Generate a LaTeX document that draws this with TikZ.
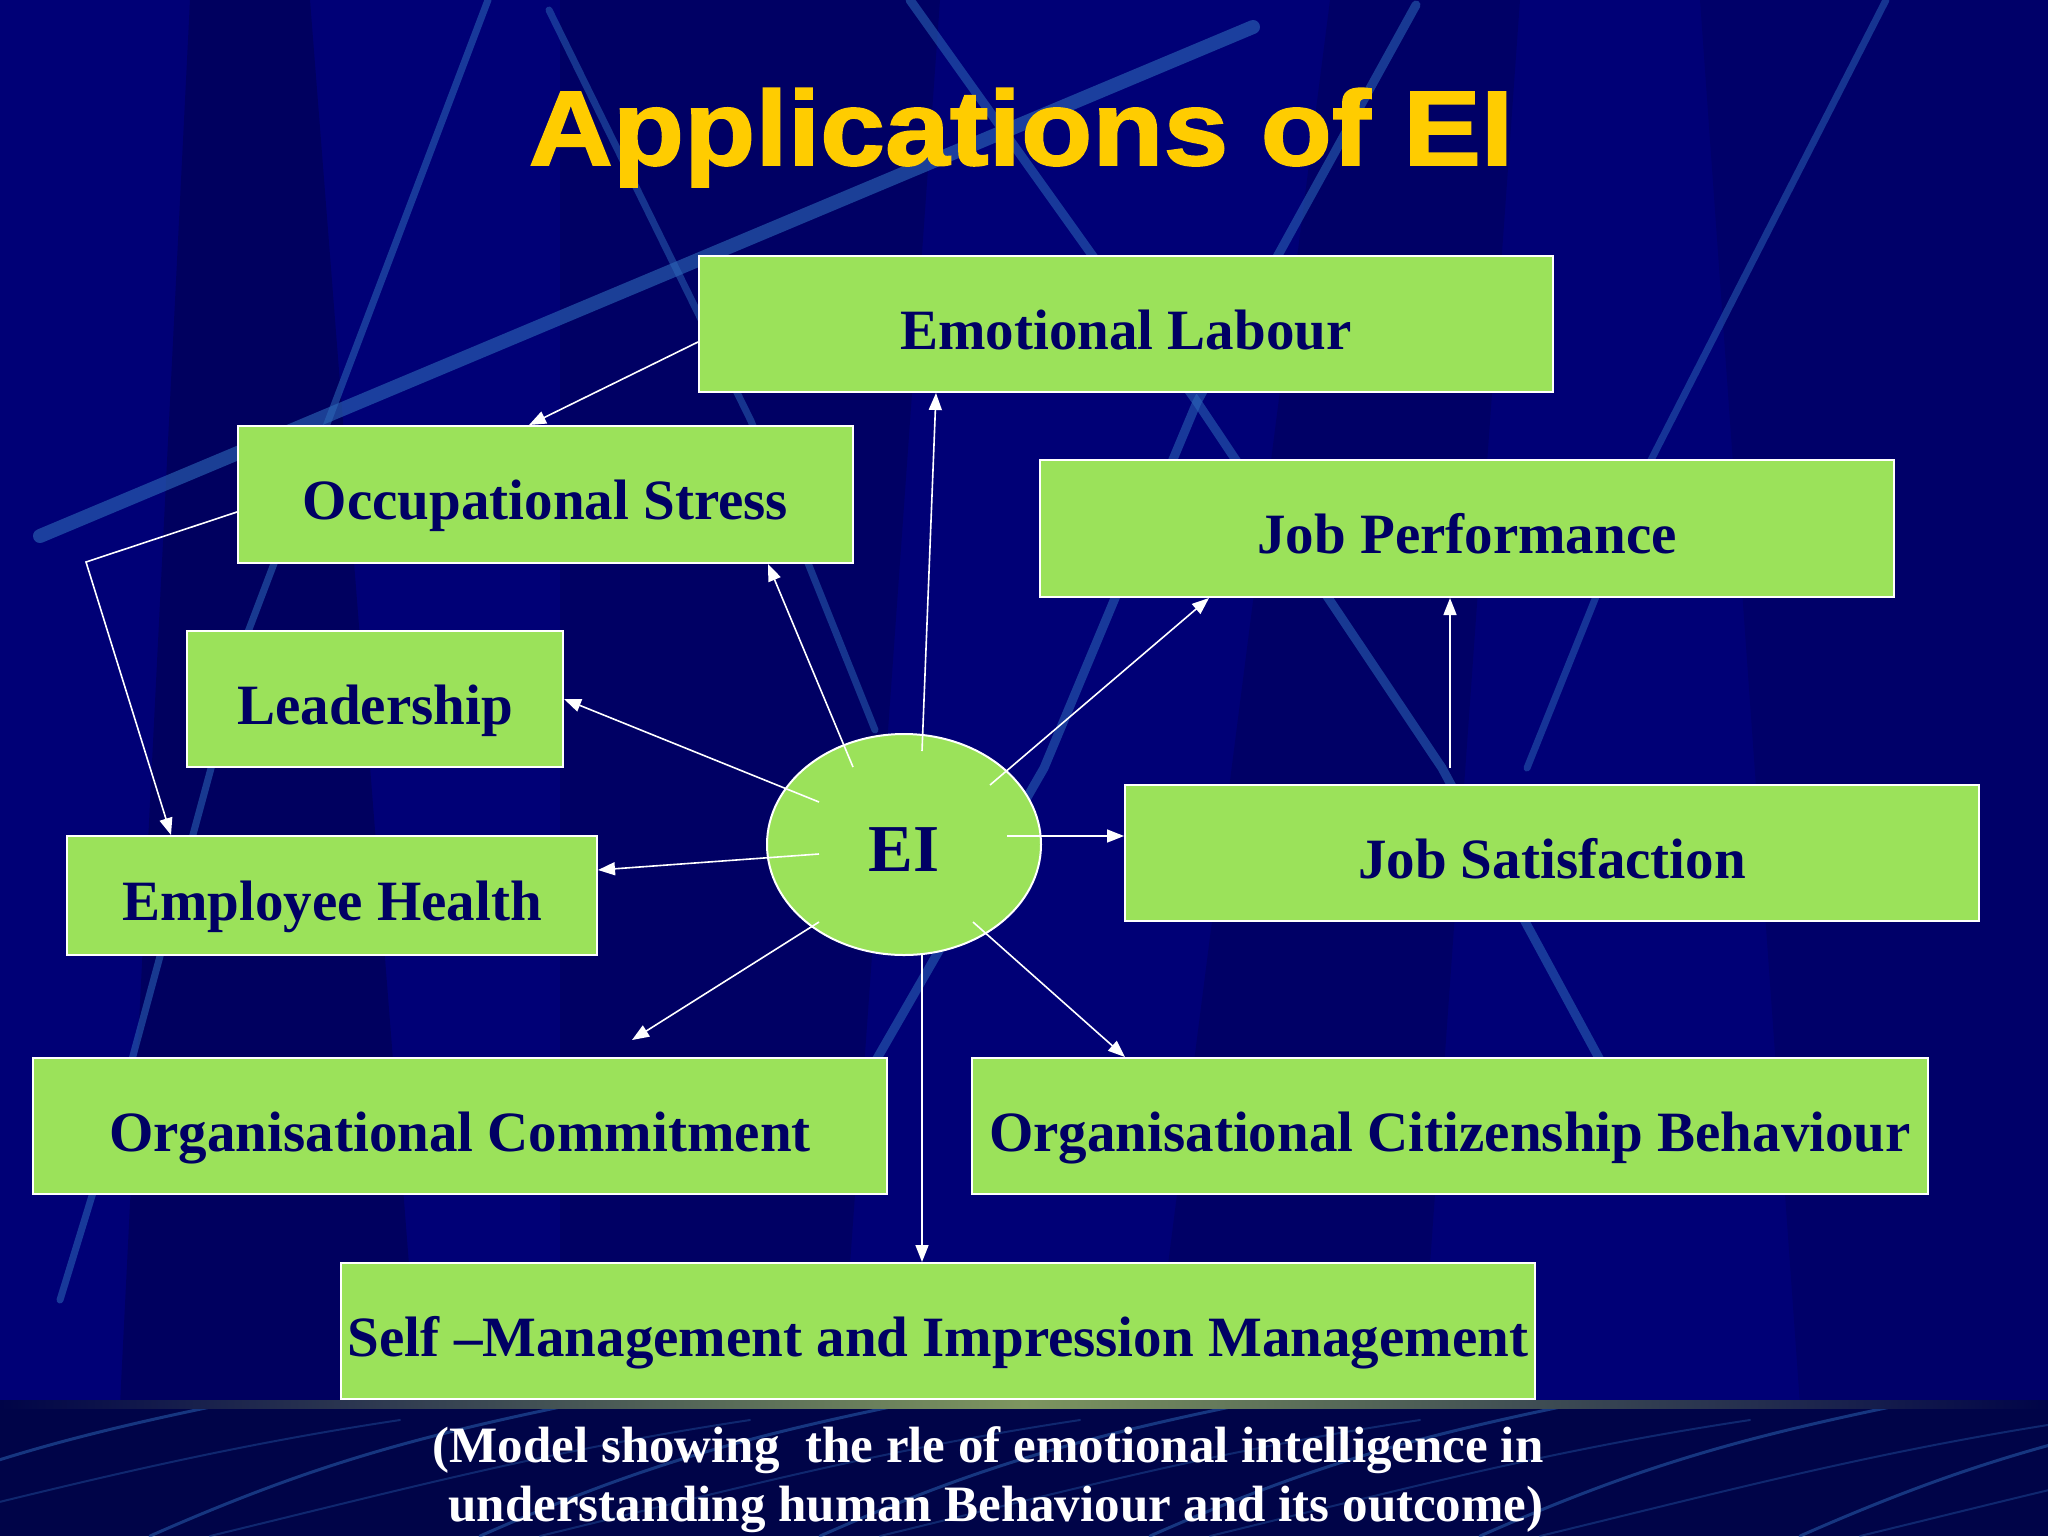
\documentclass[tikz,border=0pt]{standalone}
\usepackage{fontspec}
\setmainfont{Liberation Serif}
\newfontfamily\titlefont[FakeStretch=1.1,BoldFeatures={FakeBold=1.6,FakeStretch=1.1}]{Liberation Sans}
\usetikzlibrary{arrows.meta,shapes.geometric,calc}
\definecolor{bgnavy}{RGB}{0,0,118}
\definecolor{bgdark}{RGB}{0,0,68}
\definecolor{bottomnavy}{RGB}{0,4,72}
\definecolor{streak}{RGB}{45,105,185}
\definecolor{boxgreen}{RGB}{155,226,90}
\definecolor{textnavy}{RGB}{0,0,100}
\definecolor{titleyellow}{RGB}{255,204,0}
\definecolor{barmid}{RGB}{125,150,95}
\begin{document}
\begin{tikzpicture}[x=0.5pt,y=-0.5pt,
  box/.style={draw=white,line width=1pt,fill=boxgreen,text=textnavy,
    font=\fontsize{28.5}{34}\selectfont\bfseries,inner sep=0pt,rectangle,
    text height=25pt,text depth=0pt},
  link/.style={draw=white,line width=0.8pt,-{Triangle[length=8.5pt,width=6.5pt]}},
  streakline/.style={draw=streak,line cap=round,line join=round},
  captiontext/.style={text=white,font=\fontsize{25.5}{30}\selectfont\bfseries,anchor=base,inner sep=0pt}]
\useasboundingbox (0,0) rectangle (2048,1536);
% ---------- background ----------
\fill[bgnavy] (0,0) rectangle (2048,1405);
\fill[bgdark,opacity=0.45] (190,0) -- (310,0) -- (420,1405) -- (120,1405) -- cycle;
\fill[bgdark,opacity=0.35] (560,0) -- (940,0) -- (840,1405) -- (560,1405) -- cycle;
\fill[bgdark,opacity=0.30] (1330,0) -- (1520,0) -- (1420,1405) -- (1150,1405) -- cycle;
\fill[bgdark,opacity=0.25] (1700,0) -- (2048,0) -- (2048,1405) -- (1800,1405) -- cycle;
\draw[streakline,line width=7pt,opacity=0.6] (40,536) -- (1253,27);
\draw[streakline,line width=3.5pt,opacity=0.55] (488,0) -- (248,632) -- (118,1111) -- (60,1300);
\draw[streakline,line width=3.5pt,opacity=0.5] (549,10) -- (751,421) -- (875,730);
\draw[streakline,line width=4.5pt,opacity=0.55] (910,0) -- (1197,402) -- (1442,768) -- (1600,1060);
\draw[streakline,line width=4.5pt,opacity=0.55] (1416,5) -- (1197,402) -- (1044,768) -- (875,1062);
\draw[streakline,line width=3.5pt,opacity=0.5] (1886,0) -- (1651,460) -- (1527,768);
% bottom strip
\fill[bottomnavy] (0,1405) rectangle (2048,1536);
\foreach \x in {-200,150,480,820,1150,1480,1800}{
  \draw[streakline,line width=1.5pt,opacity=0.5] (\x,1536) .. controls (\x+150,1470) and (\x+250,1440) .. (\x+420,1405);
  \draw[streakline,line width=1pt,opacity=0.35] (\x+60,1536) .. controls (\x+250,1490) and (\x+400,1450) .. (\x+600,1420);
}
\shade[left color=bottomnavy,right color=bottomnavy,middle color=barmid] (0,1400) rectangle (2048,1408);
% ---------- title ----------
\node[font=\titlefont\fontsize{53}{56}\selectfont\bfseries,text=titleyellow,anchor=base,inner sep=0pt] (title) at (1021,165) {Applications of EI};
% ---------- nodes ----------
\node[box,minimum width=427pt,minimum height=68pt] (EL) at (1126,324) {Emotional Labour};
\node[box,minimum width=307.5pt,minimum height=68.5pt] (OS) at (545.5,494.5) {Occupational Stress};
\node[box,minimum width=427pt,minimum height=68.5pt] (JP) at (1467,528.5) {Job Performance};
\node[box,minimum width=188pt,minimum height=68pt] (LD) at (375,699) {Leadership};
\node[box,minimum width=265pt,minimum height=59.5pt] (EH) at (332,895.5) {Employee Health};
\node[box,minimum width=427pt,minimum height=68pt] (JS) at (1552,853) {Job Satisfaction};
\node[box,minimum width=427pt,minimum height=68pt] (OC) at (460,1126) {Organisational Commitment};
\node[box,minimum width=478pt,minimum height=68pt] (OCB) at (1450,1126) {Organisational Citizenship Behaviour};
\node[box,minimum width=597pt,minimum height=68pt] (SM) at (938,1331) {Self \textendash Management and Impression Management};
\node[draw=white,line width=1pt,fill=boxgreen,ellipse,minimum width=137pt,minimum height=110.5pt,inner sep=0pt,
  text=textnavy,font=\fontsize{33.5}{36}\selectfont\bfseries,text height=26.5pt,text depth=0pt] (EI) at (904,844.5) {EI};
% ---------- connector end points ----------
\coordinate (eOS) at (853,767);
\coordinate (eEL) at (922,751);
\coordinate (eJP) at (990,785);
\coordinate (eLD) at (819,802);
\coordinate (eEH) at (819,854);
\coordinate (eJS) at (1007,836);
\coordinate (eOC) at (819,922);
\coordinate (eOCB) at (973,922);
\coordinate (eSM) at (922,955);
\coordinate (bend) at (86,562);
\coordinate (sJS) at (1450,768);
\coordinate (tOC) at (632,1040);
% ---------- connectors ----------
\draw[link] (EL.west |- 0,342) -- (529,0 |- OS.north);
\draw[link] (OS.west |- 0,512) -- (bend) -- (171,0 |- EH.north);
\draw[link] (eOS) -- (768,0 |- OS.south);
\draw[link] (eEL) -- (936,0 |- EL.south);
\draw[link] (eJP) -- (1209,0 |- JP.south);
\draw[link] (sJS) -- (1450,0 |- JP.south);
\draw[link] (eLD) -- (LD.east);
\draw[link] (eEH) -- (EH.east |- 0,870);
\draw[link] (eJS) -- (JS.west |- 0,836);
\draw[link] (eOC) -- (tOC);
\draw[link] (eOCB) -- (1125,0 |- OCB.north);
\draw[link] (eSM) -- (922,0 |- SM.north);
% ---------- caption ----------
\node[captiontext] (cap1) at (988,1462) {(Model showing\ \ the rle of emotional intelligence in};
\node[captiontext] (cap2) at (996,1521) {understanding human Behaviour and its outcome)};
\end{tikzpicture}
\end{document}
